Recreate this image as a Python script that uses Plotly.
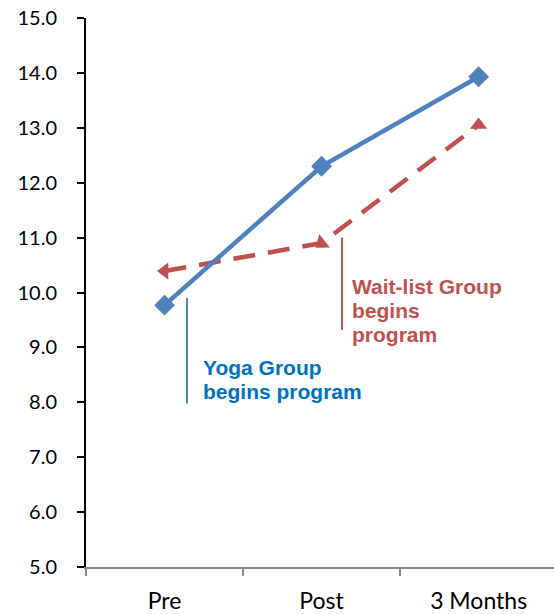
import plotly.graph_objects as go

# Time points and group means
timepoints = ["Pre", "Post", "3 Months"]
yoga_group = [9.77, 12.30, 13.93]
waitlist_group = [10.39, 10.90, 13.05]
y_ticks = [5, 6, 7, 8, 9, 10, 11, 12, 13, 14, 15]

BLUE = "#4F81BD"
RED = "#C0504D"
TEXT_BLUE = "#0070C0"

fig = go.Figure()

fig.add_trace(go.Scatter(
    x=timepoints, y=waitlist_group, mode="lines+markers",
    line=dict(color=RED, width=4.5, dash="22px,13px"),
    marker=dict(symbol="triangle-up", size=15, color=RED,
                angle=[-90, -128, 0]),
    showlegend=False,
))
fig.add_trace(go.Scatter(
    x=timepoints, y=yoga_group, mode="lines+markers",
    line=dict(color=BLUE, width=4.5),
    marker=dict(symbol="diamond", size=16, color=BLUE),
    showlegend=False,
))

# Program start markers
fig.add_shape(type="line", xref="x", yref="y", x0=0.143, x1=0.143,
              y0=9.9, y1=7.98, line=dict(color=BLUE, width=2))
fig.add_shape(type="line", xref="x", yref="y", x0=1.13, x1=1.13,
              y0=11.0, y1=9.32, line=dict(color=RED, width=2))

# Labels, one line each for tighter line spacing
yoga_lines = [("Yoga Group", 8.625), ("begins program", 8.188)]
waitlist_lines = [("Wait-list Group", 10.118), ("begins", 9.681), ("program", 9.244)]

for txt, yv in yoga_lines:
    fig.add_annotation(x=0.232, y=yv, xref="x", yref="y", xanchor="left",
                       yanchor="middle", showarrow=False, text=f"<b>{txt}</b>",
                       font=dict(family="Arial", size=21, color=TEXT_BLUE))
for txt, yv in waitlist_lines:
    fig.add_annotation(x=1.18, y=yv, xref="x", yref="y", xanchor="left",
                       yanchor="middle", showarrow=False, text=f"<b>{txt}</b>",
                       font=dict(family="Arial", size=21, color=RED))

fig.update_layout(
    width=554, height=614,
    margin=dict(l=86, r=0, t=18, b=47),
    paper_bgcolor="white", plot_bgcolor="white",
    font=dict(family="Lato, Carlito, Calibri, sans-serif", size=20, color="black"),
)
fig.update_xaxes(
    range=[-0.5, 2.48], showgrid=False, zeroline=False,
    showline=True, linecolor="#888888", linewidth=2,
    ticks="outside", tickson="boundaries", ticklen=7, tickcolor="#888888",
    tickwidth=2, ticklabelstandoff=12, tickfont=dict(size=23),
)
fig.update_yaxes(
    range=[5, 15], tickvals=y_ticks, tickformat=".1f",
    showgrid=False, zeroline=False,
    showline=True, linecolor="black", linewidth=2,
    ticks="outside", ticklen=7, tickcolor="black", tickwidth=2,
    ticklabelstandoff=16,
)

fig.write_html("out.html")
